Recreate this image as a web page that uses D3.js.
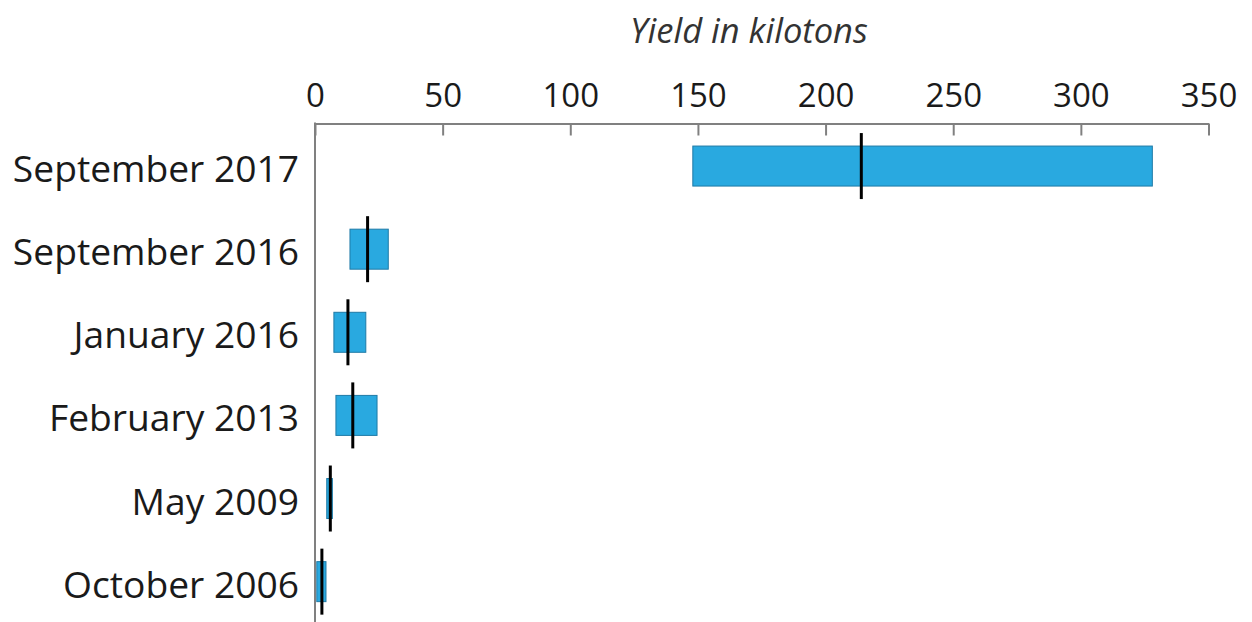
<!doctype html>
<html>

<head>
    <meta charset="utf-8">
    <title>Yield in kilotons</title>
    <style>
        body {
            margin: 0;
            background: #fff;
        }

        svg {
            display: block;
            font-family: "Open Sans", "Noto Sans", sans-serif;
        }

        .axis--x .domain,
        .axis--x .tick line {
            stroke: #808080;
            stroke-width: 2;
        }

        .axis--x .tick text {
            font-size: 33px;
            fill: #1a1a1a;
        }

        .bar {
            fill: #29a9e0;
            stroke: #1f7aa6;
            stroke-width: 1;
        }

        .mid {
            stroke: #000;
            stroke-width: 3;
        }
    </style>
    <script src="https://cdn.jsdelivr.net/npm/d3@7"></script>
</head>

<body>
    <svg width="1252" height="622"></svg>
    <script>
        // nuclear tests, top to bottom
        var tests = ["September 2017", "September 2016", "January 2016", "February 2013", "May 2009", "October 2006"];
        var lowYield = [148, 13.7, 7.4, 8.2, 4.6, 0.7];
        var highYield = [328, 28.7, 19.9, 24.3, 6.8, 4.3];
        var midYield = [214, 20.6, 12.9, 14.8, 6, 2.7];
        var xTicks = [0, 50, 100, 150, 200, 250, 300, 350];

        var data = tests.map(function (t, i) {
            return { test: t, low: lowYield[i], high: highYield[i], mid: midYield[i] };
        });

        var svg = d3.select("svg");

        var x = d3.scaleLinear().domain([0, 350]).range([315, 1208.5]);
        var y = d3.scalePoint().domain(tests).range([124.5, 623.2]).padding(0.5);

        var axisY = 123.5;
        var barH = 40,
            lineHalf = 33;

        // title
        svg.append("text")
            .attr("x", 749)
            .attr("y", 43)
            .attr("text-anchor", "middle")
            .attr("font-style", "italic")
            .attr("font-size", 34.5)
            .attr("fill", "#333")
            .text("Yield in kilotons");

        // top axis with ticks pointing down into the plot
        svg.append("g")
            .attr("class", "axis axis--x")
            .attr("transform", "translate(0," + axisY + ")")
            .call(d3.axisTop(x).tickValues(xTicks).tickSize(-12).tickSizeOuter(0).tickPadding(17))
            .attr("font-family", null)
            .attr("font-size", null);

        // left baseline
        svg.append("line")
            .attr("x1", x(0))
            .attr("x2", x(0))
            .attr("y1", axisY - 1)
            .attr("y2", 622)
            .attr("stroke", "#808080")
            .attr("stroke-width", 2);

        // category labels
        svg.append("g")
            .selectAll("text")
            .data(data)
            .enter().append("text")
            .attr("x", 299)
            .attr("y", function (d) { return y(d.test); })
            .attr("dy", "0.43em")
            .attr("text-anchor", "end")
            .attr("font-size", 37.2)
            .attr("fill", "#1a1a1a")
            .text(function (d) { return d.test; });

        // range bars
        svg.append("g")
            .selectAll(".bar")
            .data(data)
            .enter().append("rect")
            .attr("class", "bar")
            .attr("x", function (d) { return x(d.low); })
            .attr("y", function (d) { return y(d.test) - barH / 2; })
            .attr("width", function (d) { return x(d.high) - x(d.low); })
            .attr("height", barH);

        // central estimate
        svg.append("g")
            .selectAll(".mid")
            .data(data)
            .enter().append("line")
            .attr("class", "mid")
            .attr("x1", function (d) { return x(d.mid); })
            .attr("x2", function (d) { return x(d.mid); })
            .attr("y1", function (d) { return y(d.test) - lineHalf; })
            .attr("y2", function (d) { return y(d.test) + lineHalf; });
    </script>
</body>

</html>
